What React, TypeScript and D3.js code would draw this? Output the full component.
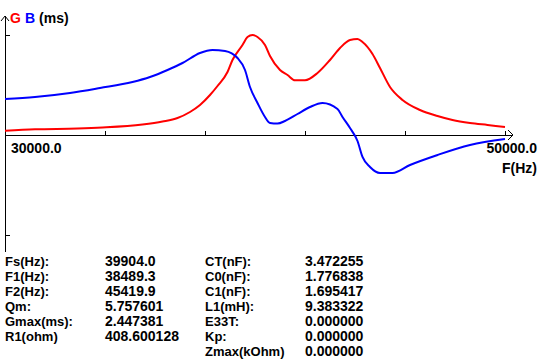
import React from "react";
import * as d3 from "d3";

// Frequency sweep (Hz) and conductance G (mS)
const gFreq = [30000, 31200, 32900, 33900, 35500, 36300, 36900, 37400, 37800, 38200, 38500, 38900, 39100, 39500, 39700, 39900, 40100, 40400, 40600, 41000, 41300, 41600, 42000, 42500, 43000, 43400, 43800, 44100, 44300, 44700, 45000, 45400, 45900, 46600, 47300, 47900, 48600, 49300, 50000];
const gValues = [0.105, 0.139, 0.159, 0.184, 0.257, 0.33, 0.416, 0.563, 0.734, 0.979, 1.199, 1.542, 1.836, 2.203, 2.398, 2.447, 2.398, 2.203, 1.933, 1.591, 1.468, 1.34, 1.34, 1.517, 1.836, 2.129, 2.325, 2.349, 2.276, 1.982, 1.64, 1.175, 0.857, 0.612, 0.465, 0.367, 0.294, 0.245, 0.196];

// Frequency sweep (Hz) and susceptance B (mS)
const bFreq = [30000, 31200, 32600, 33800, 35100, 35800, 36500, 37100, 37800, 38300, 38800, 39300, 39600, 39800, 40100, 40400, 40600, 40900, 41200, 41700, 42200, 42700, 43300, 43500, 43800, 44100, 44300, 44600, 45000, 45500, 46200, 47300, 48600, 50000];
const bValues = [0.881, 0.93, 1.028, 1.15, 1.297, 1.419, 1.591, 1.762, 2.007, 2.08, 2.056, 1.884, 1.591, 1.175, 0.783, 0.441, 0.294, 0.281, 0.343, 0.514, 0.685, 0.783, 0.636, 0.441, 0.171, -0.147, -0.538, -0.783, -0.93, -0.93, -0.734, -0.489, -0.245, -0.098];

const xDomain = [30000, 50000];
const xTicks = [34000, 38000, 42000, 46000, 50000];
const xStartLabel = "30000.0";
const xEndLabel = "50000.0";
const gMax = 2.447381;

const col1Labels = ["Fs(Hz):", "F1(Hz):", "F2(Hz):", "Qm:", "Gmax(ms):", "R1(ohm)"];
const col1Values = ["39904.0", "38489.3", "45419.9", "5.757601", "2.447381", "408.600128"];
const col2Labels = ["CT(nF):", "C0(nF):", "C1(nF):", "L1(mH):", "E33T:", "Kp:", "Zmax(kOhm)"];
const col2Values = ["3.472255", "1.776838", "1.695417", "9.383322", "0.000000", "0.000000", "0.000000"];

const FONT = "'Liberation Sans', Arial, sans-serif";

export default function App() {
  const W = 540, H = 360;
  const x = d3.scaleLinear().domain(xDomain).range([5, 505]);
  const y = d3.scaleLinear().domain([-gMax, gMax]).range([235, 35]);
  const y0 = y(0);
  const line = d3.line<[number, number]>().x(d => x(d[0])).y(d => y(d[1])).curve(d3.curveMonotoneX);
  const gPath = line(gFreq.map((f, i) => [f, gValues[i]]) as [number, number][]) || "";
  const bPath = line(bFreq.map((f, i) => [f, bValues[i]]) as [number, number][]) || "";
  const axisX0 = x(xDomain[0]);
  const axisX1 = x(xDomain[1]) + 8;
  const rowY = (i: number) => 266 + i * 15;

  return (
    <svg width={W} height={H} style={{ position: "absolute", left: 0, top: 0, background: "#fff" }} fontFamily={FONT} fontWeight="bold" fontSize={14}>
      <rect x={0} y={0} width={W} height={H} fill="#fff" />
      {/* y axis */}
      <line x1={axisX0} y1={16} x2={axisX0} y2={252} stroke="#000" strokeWidth={1} shapeRendering="crispEdges" />
      <polyline points={`${axisX0 - 4},21 ${axisX0},16 ${axisX0 + 4},21`} fill="none" stroke="#000" strokeWidth={1} />
      {[gMax, -gMax].map((v, i) => (
        <line key={i} x1={axisX0} x2={axisX0 + 5} y1={y(v)} y2={y(v)} stroke="#000" strokeWidth={1} shapeRendering="crispEdges" />
      ))}
      {/* x axis */}
      <line x1={axisX0} y1={y0} x2={axisX1} y2={y0} stroke="#000" strokeWidth={1} shapeRendering="crispEdges" />
      <polyline points={`${axisX1 - 5},${y0 - 5} ${axisX1},${y0} ${axisX1 - 5},${y0 + 5}`} fill="none" stroke="#000" strokeWidth={1} />
      {xTicks.map(t => (
        <line key={t} x1={x(t)} x2={x(t)} y1={y0} y2={y0 - 4} stroke="#000" strokeWidth={1} shapeRendering="crispEdges" />
      ))}
      {/* title */}
      <text x={10} y={23}>
        <tspan fill="#ff0000">G</tspan>
        <tspan fill="#0000ff" dx={4}>B</tspan>
        <tspan fill="#000" dx={4}>(ms)</tspan>
      </text>
      <text x={11} y={153} fill="#000">{xStartLabel}</text>
      <text x={537} y={153} fill="#000" textAnchor="end">{xEndLabel}</text>
      <text x={537} y={173} fill="#000" textAnchor="end">F(Hz)</text>
      {/* curves */}
      <path d={gPath} fill="none" stroke="#ff0000" strokeWidth={2} />
      <path d={bPath} fill="none" stroke="#0000ff" strokeWidth={2} />
      {/* table */}
      <g fontSize={13}>
        {col1Labels.map((t, i) => <text key={t} x={5} y={rowY(i)}>{t}</text>)}
        {col2Labels.map((t, i) => <text key={t} x={205} y={rowY(i)}>{t}</text>)}
      </g>
      <g fontSize={14}>
        {col1Values.map((t, i) => <text key={i} x={105} y={rowY(i)}>{t}</text>)}
        {col2Values.map((t, i) => <text key={i} x={305} y={rowY(i)}>{t}</text>)}
      </g>
    </svg>
  );
}
